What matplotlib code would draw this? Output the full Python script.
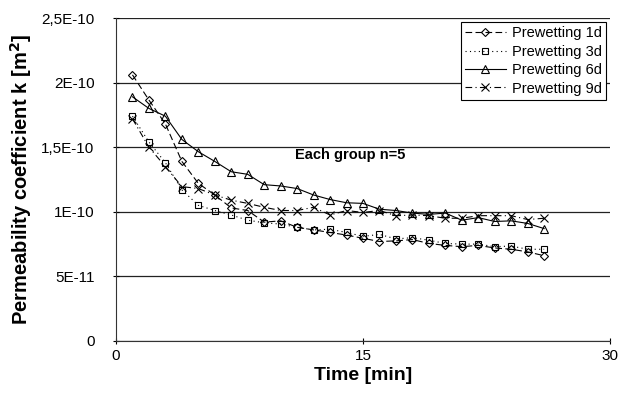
import matplotlib
matplotlib.use("Agg")
import matplotlib.pyplot as plt

plt.rcParams['font.family'] = ['Liberation Sans', 'DejaVu Sans']

time_min = list(range(1, 27))
k_1d = [20.6, 18.65, 16.8, 13.9, 12.2, 11.3, 10.3, 10.1, 9.2, 9.3, 8.8, 8.6, 8.4,
        8.2, 7.95, 7.7, 7.75, 7.85, 7.55, 7.4, 7.3, 7.4, 7.2, 7.1, 6.9, 6.6]
k_3d = [17.4, 15.4, 13.8, 11.7, 10.5, 10.1, 9.75, 9.35, 9.15, 9.05, 8.8, 8.6, 8.65,
        8.4, 8.1, 8.25, 7.9, 8.0, 7.8, 7.55, 7.5, 7.5, 7.3, 7.35, 7.1, 7.1]
k_6d = [18.9, 18.0, 17.4, 15.6, 14.65, 13.9, 13.1, 12.9, 12.1, 12.0, 11.8, 11.3, 10.95,
        10.7, 10.65, 10.2, 10.1, 9.9, 9.8, 9.9, 9.35, 9.55, 9.25, 9.3, 9.1, 8.7]
k_9d = [17.2, 15.0, 13.5, 11.95, 11.8, 11.3, 10.9, 10.65, 10.35, 10.1, 10.1, 10.35, 9.75,
        10.1, 9.95, 10.1, 9.7, 9.75, 9.7, 9.5, 9.5, 9.7, 9.7, 9.7, 9.4, 9.5]
scale = 1e-11
series_labels = ["Prewetting 1d", "Prewetting 3d", "Prewetting 6d", "Prewetting 9d"]

y_ticks = [0, 5e-11, 1e-10, 1.5e-10, 2e-10, 2.5e-10]
y_tick_labels = ["0", "5E-11", "1E-10", "1,5E-10", "2E-10", "2,5E-10"]
x_ticks = [0, 15, 30]
x_tick_labels = ["0", "15", "30"]

fig = plt.figure(figsize=(6.18, 3.95), dpi=100)
ax = fig.add_axes([116/618, 1 - 341/395, (610-116)/618, (341-18)/395])

styles = [
    dict(linestyle=(0, (6, 3)), marker='D', markersize=4),
    dict(linestyle=(0, (1, 3)), marker='s', markersize=5),
    dict(linestyle='-', marker='^', markersize=5.5),
    dict(linestyle=(0, (6, 3, 1, 3)), marker='x', markersize=5.5),
]
for data, lab, st in zip([k_1d, k_3d, k_6d, k_9d], series_labels, styles):
    ax.plot(time_min, [v * scale for v in data], color='black', linewidth=0.8,
            markerfacecolor='none', markeredgecolor='black', markeredgewidth=0.8,
            label=lab, **st)

ax.set_xlim(0, 30)
ax.set_ylim(0, 2.5e-10)
ax.set_yticks(y_ticks)
ax.set_yticklabels(y_tick_labels)
ax.set_xticks(x_ticks)
ax.set_xticklabels(x_tick_labels)
ax.tick_params(axis='both', labelsize=11, direction='inout', length=5, width=0.8, colors='black')
ax.tick_params(axis='y', pad=13)
ax.yaxis.grid(True, color='#222222', linewidth=0.9)
ax.set_axisbelow(True)
for s in ['top', 'right']:
    ax.spines[s].set_visible(False)
for s in ['left', 'bottom']:
    ax.spines[s].set_color('#333333')
    ax.spines[s].set_linewidth(0.8)

ax.set_xlabel("Time [min]", fontsize=14, fontweight='bold', labelpad=3)
ax.set_ylabel("Permeability coefficient k [m$^\\mathbf{2}$]", fontsize=14.5, fontweight='bold', labelpad=5)

ax.text(10.9, 1.44e-10, "Each group n=5", fontsize=10.5, fontweight='bold', va='center', ha='left')

leg = ax.legend(loc='upper right', bbox_to_anchor=(606/618, (395-22)/395),
                bbox_transform=fig.transFigure, borderaxespad=0, fontsize=10.5,
                frameon=True, fancybox=False, edgecolor='black', framealpha=1,
                handlelength=2.8, handletextpad=0.4, labelspacing=0.3, borderpad=0.3)
leg.get_frame().set_linewidth(0.8)

fig.savefig("out.png", dpi=100)
